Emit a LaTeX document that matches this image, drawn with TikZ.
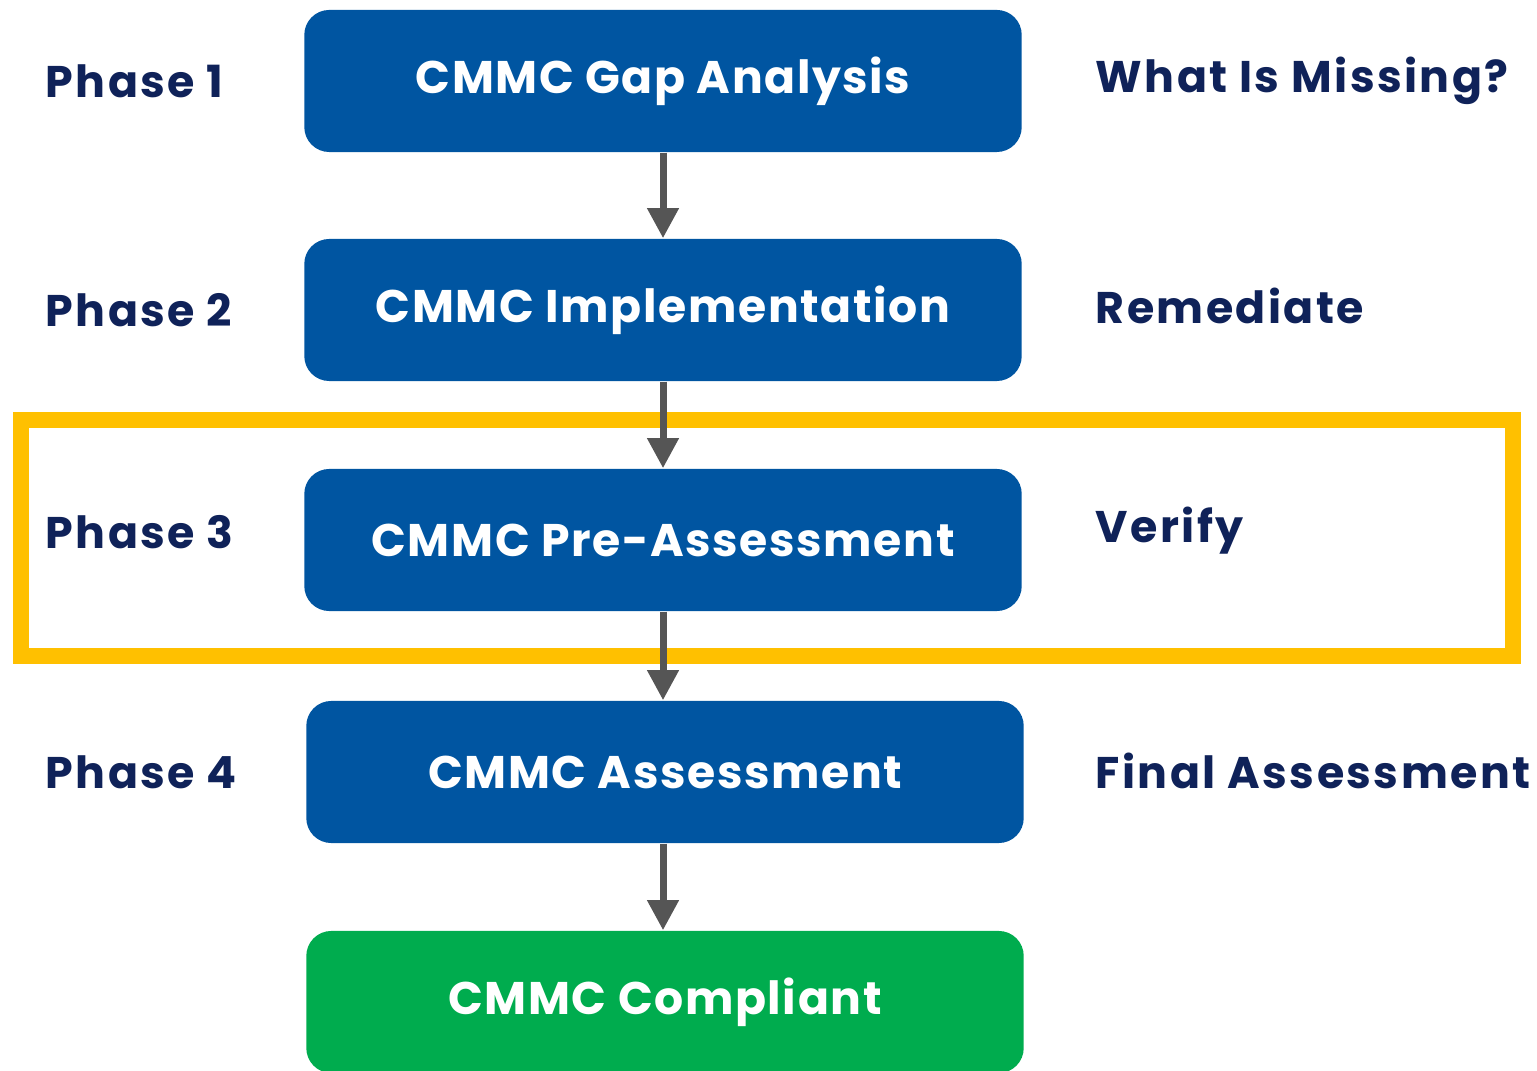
\documentclass[tikz,border=0pt]{standalone}
\usepackage{fontspec}
\setmainfont{Poppins}
\usepackage{xcolor}
\usetikzlibrary{arrows.meta}

\definecolor{cmmcblue}{HTML}{0055A1}
\definecolor{cmmcgreen}{HTML}{00AC4E}
\definecolor{cmmcyellow}{HTML}{FFC000}
\definecolor{cmmcnavy}{HTML}{0F2259}
\definecolor{cmmcgray}{HTML}{555555}

\tikzset{
  phasebox/.style={rectangle, rounded corners=0.25cm, fill=cmmcblue, draw=none,
    minimum height=1.42cm, minimum width=7.17cm, text=white,
    font=\fontsize{13}{15}\selectfont\bfseries\addfontfeatures{LetterSpace=3.5}},
  sidelabel/.style={anchor=west, text=cmmcnavy, inner sep=0pt,
    font=\fontsize{12.6}{15}\selectfont\bfseries\addfontfeatures{LetterSpace=5.5}},
  flow/.style={-{Triangle[width=0.3cm,length=0.3cm]}, draw=cmmcgray, line width=0.07cm}
}

\begin{document}
\begin{tikzpicture}[x=0.01cm, y=-0.01cm]
    \useasboundingbox (0,0) rectangle (1537,1071);
    % boxes
    \node [phasebox] (gap) at (663,81) {CMMC Gap Analysis};
    \node [phasebox] (impl) at (663,310) {CMMC Implementation};
    \node [phasebox] (pre) at (663,540) {CMMC Pre-Assessment};
    \node [phasebox] (assess) at (665,772) {CMMC Assessment};
    \node [phasebox, fill=cmmcgreen] (compliant) at (665,1002) {CMMC Compliant};

    % labels
    \node [sidelabel] (p1) at (45,81) {Phase 1};
    \node [sidelabel] (p2) at (45,310) {Phase 2};
    \node [sidelabel] (p3) at (45,532) {Phase 3};
    \node [sidelabel] (p4) at (45,772) {Phase 4};
    \node [sidelabel] (missing) at (1095,81) {What Is Missing?};
    \node [sidelabel] (remediate) at (1095,306) {Remediate};
    \node [sidelabel] (verify) at (1095,531) {Verify};
    \node [sidelabel] (final) at (1095,771) {Final Assessment};

    % highlight of phase 3
    \draw [cmmcyellow, line width=0.16cm, sharp corners] (21,420) rectangle (1513,656);

    % arrows
    \draw [flow] (gap.south) -- (impl.north);
    \draw [flow] (impl.south) -- (pre.north);
    \draw [flow] (pre.south) -- (pre.south |- assess.north);
    \draw [flow] (assess.south -| pre.south) -- (pre.south |- compliant.north);
\end{tikzpicture}
\end{document}
